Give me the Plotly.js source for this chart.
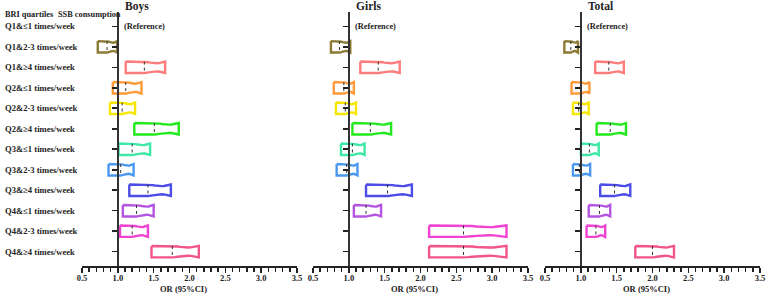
<!DOCTYPE html>
<html>
<head>
<meta charset="utf-8">
<script src="https://cdn.plot.ly/plotly-3.0.1.min.js"></script>
<style>html,body{margin:0;padding:0;background:#fff;}#chart{width:767px;height:295px;}</style>
</head>
<body>
<div id="chart"></div>
<script>
// ---- data ----
const categories = [
  "Q1&≤1 times/week", "Q1&2-3 times/week", "Q1&≥4 times/week",
  "Q2&≤1 times/week", "Q2&2-3 times/week", "Q2&≥4 times/week",
  "Q3&≤1 times/week", "Q3&2-3 times/week", "Q3&≥4 times/week",
  "Q4&≤1 times/week", "Q4&2-3 times/week", "Q4&≥4 times/week"
];
const panelTitles = ["Boys", "Girls", "Total"];
const referenceLabel = "(Reference)";
const xTitle = "OR (95%CI)";
const xTickVals = [0.5, 1.0, 1.5, 2.0, 2.5, 3.0, 3.5];
const xTickText = ["0.5", "1.0", "1.5", "2.0", "2.5", "3.0", "3.5"];

const boysLow  = [null, 0.72, 1.11, 0.93, 0.89, 1.23, 1.01, 0.87, 1.16, 1.07, 1.03, 1.47];
const boysOR   = [1,    0.85, 1.37, 1.11, 1.06, 1.51, 1.20, 1.04, 1.42, 1.26, 1.20, 1.76];
const boysHigh = [null, 0.99, 1.66, 1.33, 1.24, 1.85, 1.45, 1.22, 1.74, 1.50, 1.42, 2.13];

const girlsLow  = [null, 0.75, 1.16, 0.79, 0.82, 1.05, 0.89, 0.83, 1.24, 1.07, 2.12, 2.12];
const girlsOR   = [1,    0.87, 1.41, 0.93, 0.95, 1.30, 1.05, 0.97, 1.54, 1.24, 2.60, 2.60];
const girlsHigh = [null, 1.02, 1.71, 1.07, 1.10, 1.59, 1.22, 1.12, 1.88, 1.45, 3.20, 3.20];

const totalLow  = [null, 0.77, 1.20, 0.87, 0.89, 1.22, 1.00, 0.89, 1.27, 1.11, 1.08, 1.76];
const totalOR   = [1,    0.86, 1.39, 1.00, 0.97, 1.41, 1.12, 0.98, 1.47, 1.26, 1.21, 2.00];
const totalHigh = [null, 0.96, 1.60, 1.12, 1.11, 1.63, 1.25, 1.13, 1.69, 1.41, 1.34, 2.30];

const rowColors = [null, "#8C7A35", "#FF7C7C", "#FF9A3A", "#F7E600", "#22E81E",
                   "#3EE8A6", "#4A98F0", "#4C4CE6", "#B455E2", "#F043D2", "#F2548E"];

// ---- drawing ----
const panels = [
  {low: boysLow, or: boysOR, high: boysHigh, xa: "x", ya: "y"},
  {low: girlsLow, or: girlsOR, high: girlsHigh, xa: "x2", ya: "y2"},
  {low: totalLow, or: totalOR, high: totalHigh, xa: "x3", ya: "y3"}
];
const H = 0.28;   // half height of box (row units)
const D = 0.08;   // notch depth
const N = 10;
const traces = [];
panels.forEach(p => {
  const dx = [], dy = [];
  categories.forEach((c, i) => {
    if (p.low[i] === null) return;
    const lo = p.low[i], o = p.or[i], hi = p.high[i];
    const topX = [lo], topY = [i - H];
    for (let k = 0; k <= N; k++) {
      const t = k / N;
      topX.push(o + (hi - o) * t);
      topY.push(i - H + D * Math.sin(Math.PI * Math.pow(t, 1.3)));
    }
    const botX = [], botY = [];
    for (let k = N; k >= 0; k--) {
      const t = k / N;
      botX.push(o + (hi - o) * t);
      botY.push(i + H - D * Math.sin(Math.PI * Math.pow(t, 1.3)));
    }
    const xs = topX.concat(botX, [lo, lo]);
    const ys = topY.concat(botY, [i + H, i - H]);
    traces.push({
      type: "scatter", mode: "lines", x: xs, y: ys,
      xaxis: p.xa, yaxis: p.ya, showlegend: false, hoverinfo: "skip",
      line: {color: rowColors[i], width: 2.4}
    });
    dx.push(o, o, null); dy.push(i - H, i + H, null);
  });
  traces.push({
    type: "scatter", mode: "lines", x: dx, y: dy, xaxis: p.xa, yaxis: p.ya,
    showlegend: false, hoverinfo: "skip",
    line: {color: "#333", width: 1, dash: "dot"}
  });
});

const W = 767;
const xDomains = [[82 / W, 297 / W], [313 / W, 528 / W], [545 / W, 760 / W]];
const yDomain = [1 - 266 / 295, 1 - 12 / 295];
const fam = "Liberation Serif, Times New Roman, serif";

function xAxis(i) {
  return {
    domain: xDomains[i], range: [0.5, 3.5], anchor: ["y", "y2", "y3"][i],
    showgrid: false, zeroline: false, showline: true, linecolor: "#222", linewidth: 2,
    ticks: "outside", ticklen: 5, tickwidth: 1.6, tickcolor: "#222",
    tickvals: xTickVals, ticktext: xTickText, ticklabelstandoff: -2,
    tickfont: {family: fam, size: 8.5, color: "#222", weight: "bold"},
    minor: {dtick: 0.1, ticks: "outside", ticklen: 4, tickwidth: 1.4, tickcolor: "#222"}
  };
}
function yAxis(i) {
  const pos = xDomains[i][0] + (xDomains[i][1] - xDomains[i][0]) * (1 - 0.5) / 3;
  const a = {
    domain: yDomain, range: [11.7, -0.7], anchor: "free", position: pos,
    showgrid: false, zeroline: false, showline: true, linecolor: "#333", linewidth: 2.2,
    ticks: "outside", ticklen: 5, tickwidth: 1.6, tickcolor: "#222",
    tickvals: categories.map((c, k) => k), showticklabels: false
  };
  if (i > 0) a.overlaying = "y";
  return a;
}

const annotations = [];
categories.forEach((c, k) => {
  annotations.push({
    text: c, xref: "paper", x: 3 / W, xanchor: "left", yref: "y", y: k, yanchor: "middle",
    showarrow: false, font: {family: fam, size: 8.6, color: "#222", weight: "bold"}
  });
});
annotations.push({
  text: "BRI quartiles", xref: "paper", x: 3 / W, xanchor: "left", yref: "paper", y: 1 - 14 / 295,
  yanchor: "middle", showarrow: false, font: {family: fam, size: 8.3, color: "#222", weight: "bold"}
});
annotations.push({
  text: "SSB consumption", xref: "paper", x: 56 / W, xanchor: "left", yref: "paper", y: 1 - 14 / 295,
  yanchor: "middle", showarrow: false, font: {family: fam, size: 8.3, color: "#222", weight: "bold"}
});
panels.forEach((p, i) => {
  annotations.push({
    text: panelTitles[i], xref: p.xa, x: 1.0, xanchor: "left", xshift: 5,
    yref: "paper", y: 1 - 6 / 295, yanchor: "middle", showarrow: false,
    font: {family: fam, size: 11.5, color: "#222", weight: "bold"}
  });
  annotations.push({
    text: referenceLabel, xref: p.xa, x: 1.0, xanchor: "left", xshift: 4,
    yref: p.ya, y: 0, yanchor: "middle", showarrow: false,
    font: {family: fam, size: 8.3, color: "#222", weight: "bold"}
  });
  annotations.push({
    text: xTitle, xref: p.xa, x: 1.92, xanchor: "center",
    yref: "paper", y: 1 - 289 / 295, yanchor: "middle", showarrow: false,
    font: {family: fam, size: 8.5, color: "#222", weight: "bold"}
  });
});

const layout = {
  width: 767, height: 295, margin: {l: 0, r: 0, t: 0, b: 0},
  paper_bgcolor: "#fff", plot_bgcolor: "#fff", showlegend: false,
  xaxis: xAxis(0), xaxis2: xAxis(1), xaxis3: xAxis(2),
  yaxis: yAxis(0), yaxis2: yAxis(1), yaxis3: yAxis(2),
  annotations: annotations
};
Plotly.newPlot("chart", traces, layout, {displayModeBar: false, staticPlot: true});
</script>
</body>
</html>
